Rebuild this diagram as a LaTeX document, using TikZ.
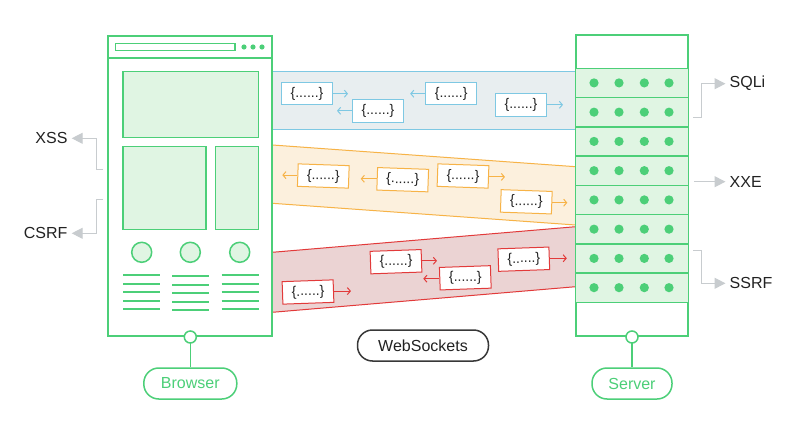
\documentclass[tikz,border=0pt]{standalone}
\usepackage{fontspec}
\setmainfont{Liberation Sans}
\usetikzlibrary{arrows.meta}
\definecolor{grn}{HTML}{4CCF78}
\definecolor{grnfill}{HTML}{E0F5E3}
\definecolor{bl}{HTML}{7EC8E3}
\definecolor{blfill}{HTML}{E8EEF0}
\definecolor{org}{HTML}{F7B347}
\definecolor{orgfill}{HTML}{FCF0DD}
\definecolor{rd}{HTML}{E23A3A}
\definecolor{rdfill}{HTML}{EBD3D3}
\definecolor{gry}{HTML}{C8CCCF}
\definecolor{txt}{HTML}{222222}
\tikzset{
  msg/.style={draw, fill=white, line width=1pt, minimum width=51pt, minimum height=22.5pt, inner sep=0pt, font=\fontsize{14}{14}\selectfont, text=txt},
  marrow/.style={line width=1pt, -{Straight Barb[length=3pt,width=7pt]}},
  panel/.style={draw=grn, fill=grnfill, line width=1.5pt},
  gline/.style={draw=grn, line width=1.8pt},
  lbl/.style={inner xsep=4pt, inner ysep=0pt, font=\fontsize{16}{16}\selectfont, text=txt},
  garrow/.style={draw=gry, line width=1pt, -{Triangle[length=11pt,width=11pt]}, gry},
  pill/.style={draw, rounded corners=15pt, line width=1.5pt, minimum height=31pt, font=\fontsize{16}{16}\selectfont},
  knob/.style={circle, draw=grn, fill=white, line width=1.5pt, minimum size=12pt, inner sep=0pt}
}
\begin{document}
\begin{tikzpicture}[x=1pt,y=-1pt]
\useasboundingbox (0,0) rectangle (804,431);
\fill[white] (0,0) rectangle (804,431);

% ---------- bands ----------
\fill[blfill] (272.3,71.7) rectangle (575.7,129.3);
\draw[bl, line width=1pt] (272.3,71.7) -- (575.7,71.7) (272.3,129.3) -- (575.7,129.3);

\fill[orgfill] (272.3,145) -- (575.7,166.7) -- (575.7,225) -- (272.3,203.3) -- cycle;
\draw[org, line width=1pt] (272.3,145) -- (575.7,166.7) (575.7,225) -- (272.3,203.3);

\fill[rdfill] (272.3,252.3) -- (575.7,226.7) -- (575.7,286.7) -- (272.3,312.3) -- cycle;
\draw[rd, line width=1pt] (272.3,252.3) -- (575.7,226.7) (575.7,286.7) -- (272.3,312.3);

% blue messages
\node[msg, draw=bl] (b1) at (307,93.7) {\{......\}};
\node[msg, draw=bl] (b2) at (378,110.8) {\{......\}};
\node[msg, draw=bl] (b3) at (451.2,93.7) {\{......\}};
\node[msg, draw=bl] (b4) at (521,104.8) {\{......\}};
\draw[marrow, bl] (b1.east) -- ++(15,0);
\draw[marrow, bl] (b2.west) -- ++(-15,0);
\draw[marrow, bl] (b3.west) -- ++(-15,0);
\draw[marrow, bl] (b4.east) -- ++(16,0);

% orange messages
\node[msg, draw=org, rotate=-2] (o1) at (323.3,176) {\{......\}};
\node[msg, draw=org, rotate=-2] (o2) at (402.7,179.7) {\{......\}};
\node[msg, draw=org, rotate=-2] (o3) at (463,176) {\{......\}};
\node[msg, draw=org, rotate=-2] (o4) at (526.3,201.8) {\{......\}};
\draw[marrow, org] (o1.west) -- ++(-15,0);
\draw[marrow, org] (o2.west) -- ++(-16,0);
\draw[marrow, org] (o3.east) -- ++(16,0);
\draw[marrow, org] (o4.east) -- ++(15,0);

% red messages
\node[msg, draw=rd, rotate=2] (r1) at (308,292) {\{......\}};
\node[msg, draw=rd, rotate=2] (r2) at (396,261.7) {\{......\}};
\node[msg, draw=rd, rotate=2] (r3) at (465.3,277.8) {\{......\}};
\node[msg, draw=rd, rotate=2] (r4) at (523.8,259.2) {\{......\}};
\draw[marrow, rd] (r1.east) -- ++(17,0);
\draw[marrow, rd] (r2.east) -- ++(15,0);
\draw[marrow, rd] (r3.west) -- ++(-16,0);
\draw[marrow, rd] (r4.east) -- ++(17,0);

% ---------- browser ----------
\node[draw=grn, line width=2pt, minimum width=164pt, minimum height=300pt, inner sep=0pt] (browser) at (190.3,186) {};
\draw[gline] (108.3,57.7) -- (272.3,57.7);
\draw[draw=grn, line width=1.4pt] (115.3,43.3) rectangle (235,50.3);
\foreach \xx in {244,253,262} \fill[grn] (\xx,47) circle (2.6);
\draw[panel] (123,71.3) rectangle (258.7,137.3);
\draw[panel] (123,146.7) rectangle (206,229.7);
\draw[panel] (215.7,146.7) rectangle (258.7,229.7);
\foreach \xx in {141.7,190.3,239.7} \draw[panel] (\xx,252.3) circle (10);
\foreach \yy in {275,283.7,292.2,300.8,309.3} {
  \draw[gline] (123.3,\yy) -- (160.3,\yy);
  \draw[gline] (172.3,\yy+1) -- (209.3,\yy+1);
  \draw[gline] (221.7,\yy) -- (258.7,\yy);
}

% ---------- server ----------
\node[draw=grn, line width=2pt, fill=white, minimum width=112.6pt, minimum height=301pt, inner sep=0pt] (server) at (632,185.5) {};
\foreach \i in {0,...,7} {
  \pgfmathsetmacro{\ya}{68.3+\i*29.25}
  \pgfmathsetmacro{\yb}{\ya+29.25}
  \pgfmathsetmacro{\yc}{\ya+14.6}
  \draw[panel] (575.7,\ya) rectangle (688.3,\yb);
  \foreach \xx in {594,619,644.3,669} \fill[grn] (\xx,\yc) circle (4.6);
}

% ---------- side labels ----------
\node[lbl, anchor=east] (xss) at (71.7,138.3) {XSS};
\node[lbl, anchor=east] (csrf) at (71.7,233.3) {CSRF};
\draw[garrow] (103,169.3) -- (96.7,169.3) -- (96.7,138.3) -- (xss.east);
\draw[garrow] (103,199.3) -- (96.7,199.3) -- (96.7,233.3) -- (csrf.east);

\node[lbl, anchor=west] (sqli) at (725.5,83.7) {SQLi};
\node[lbl, anchor=west] (xxe) at (725.5,181.7) {XXE};
\node[lbl, anchor=west] (ssrf) at (725.5,283.3) {SSRF};
\draw[garrow] (693,117) -- (701.7,117) -- (701.7,83.7) -- (sqli.west);
\draw[garrow] (694,181.7) -- (xxe.west);
\draw[garrow] (693,250) -- (701.7,250) -- (701.7,283.3) -- (ssrf.west);

% ---------- pills ----------
\node[pill, draw=grn, text=grn, minimum width=93pt] (bpill) at (190.3,383.5) {Browser};
\node[pill, draw=grn, text=grn, minimum width=80pt] (spill) at (632,383.5) {Server};
\node[pill, draw=txt!90, text=txt, minimum width=131pt, minimum height=31pt] (ws) at (423,345.5) {WebSockets};
\draw[grn, line width=1.5pt] (browser.south) -- (bpill.north);
\draw[grn, line width=1.5pt] (server.south) -- (spill.north);
\node[knob] (bknob) at (browser.south) {};
\node[knob] (sknob) at (server.south) {};
\end{tikzpicture}
\end{document}
